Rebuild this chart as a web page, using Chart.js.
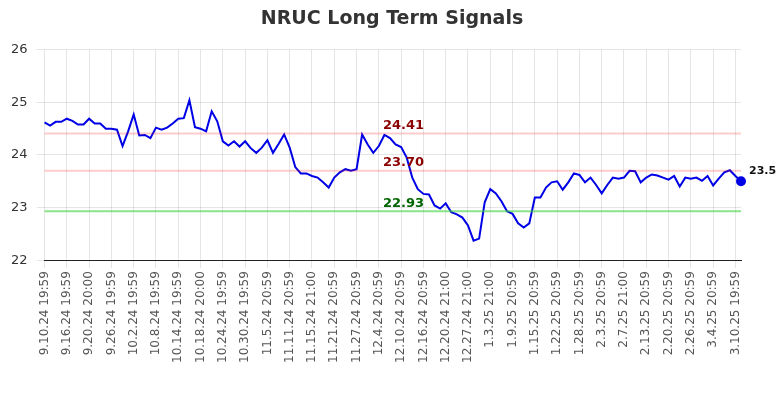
<!DOCTYPE html>
<html>
<head>
<meta charset="utf-8">
<script src="https://cdn.jsdelivr.net/npm/chart.js@4.4.1/dist/chart.umd.min.js"></script>
<style>
  html, body { margin: 0; padding: 0; background: #fff; }
  #wrap { width: 784px; height: 400px; }
</style>
</head>
<body>
<div id="wrap"><canvas id="signalChart"></canvas></div>
<script>
const dates = [
  '9.10.24 19:59', '9.11.24 19:59', '9.12.24 19:59', '9.13.24 20:00', '9.16.24 19:59', '9.17.24 19:59',
  '9.18.24 19:59', '9.19.24 19:59', '9.20.24 20:00', '9.23.24 19:59', '9.24.24 19:59', '9.25.24 19:59',
  '9.26.24 19:59', '9.27.24 20:00', '9.30.24 19:59', '10.1.24 19:59', '10.2.24 19:59', '10.3.24 19:59',
  '10.4.24 20:00', '10.7.24 19:59', '10.8.24 19:59', '10.9.24 19:59', '10.10.24 19:59', '10.11.24 20:00',
  '10.14.24 19:59', '10.15.24 19:59', '10.16.24 19:59', '10.17.24 19:59', '10.18.24 20:00', '10.21.24 19:59',
  '10.22.24 19:59', '10.23.24 19:59', '10.24.24 19:59', '10.25.24 20:00', '10.28.24 19:59', '10.29.24 19:59',
  '10.30.24 19:59', '10.31.24 19:59', '11.1.24 20:00', '11.4.24 20:59', '11.5.24 20:59', '11.6.24 20:59',
  '11.7.24 20:59', '11.8.24 21:00', '11.11.24 20:59', '11.12.24 20:59', '11.13.24 20:59', '11.14.24 20:59',
  '11.15.24 21:00', '11.18.24 20:59', '11.19.24 20:59', '11.20.24 20:59', '11.21.24 20:59', '11.22.24 21:00',
  '11.25.24 20:59', '11.26.24 20:59', '11.27.24 20:59', '11.29.24 18:00', '12.2.24 20:59', '12.3.24 20:59',
  '12.4.24 20:59', '12.5.24 20:59', '12.6.24 21:00', '12.9.24 20:59', '12.10.24 20:59', '12.11.24 20:59',
  '12.12.24 20:59', '12.13.24 21:00', '12.16.24 20:59', '12.17.24 20:59', '12.18.24 20:59', '12.19.24 20:59',
  '12.20.24 21:00', '12.23.24 20:59', '12.24.24 18:00', '12.26.24 20:59', '12.27.24 21:00', '12.30.24 20:59',
  '12.31.24 20:59', '1.2.25 20:59', '1.3.25 21:00', '1.6.25 20:59', '1.7.25 20:59', '1.8.25 20:59',
  '1.9.25 20:59', '1.10.25 21:00', '1.13.25 20:59', '1.14.25 20:59', '1.15.25 20:59', '1.16.25 20:59',
  '1.17.25 21:00', '1.21.25 20:59', '1.22.25 20:59', '1.23.25 20:59', '1.24.25 21:00', '1.27.25 20:59',
  '1.28.25 20:59', '1.29.25 20:59', '1.30.25 20:59', '1.31.25 21:00', '2.3.25 20:59', '2.4.25 20:59',
  '2.5.25 20:59', '2.6.25 20:59', '2.7.25 21:00', '2.10.25 20:59', '2.11.25 20:59', '2.12.25 20:59',
  '2.13.25 20:59', '2.14.25 21:00', '2.18.25 20:59', '2.19.25 20:59', '2.20.25 20:59', '2.21.25 21:00',
  '2.24.25 20:59', '2.25.25 20:59', '2.26.25 20:59', '2.27.25 20:59', '2.28.25 21:00', '3.3.25 20:59',
  '3.4.25 20:59', '3.5.25 20:59', '3.6.25 20:59', '3.7.25 21:00', '3.10.25 19:59', '3.11.25 19:59'
];

const prices = [
  24.62, 24.56, 24.63, 24.63, 24.69, 24.65, 24.58, 24.58, 24.69, 24.60,
  24.60, 24.50, 24.50, 24.48, 24.17, 24.45, 24.77, 24.37, 24.38, 24.32,
  24.52, 24.48, 24.52, 24.60, 24.69, 24.70, 25.04, 24.53, 24.50, 24.45,
  24.83, 24.64, 24.26, 24.18, 24.26, 24.16, 24.26, 24.13, 24.04, 24.14,
  24.28, 24.04, 24.21, 24.39, 24.14, 23.77, 23.65, 23.65, 23.60, 23.57,
  23.48, 23.38, 23.57, 23.67, 23.73, 23.70, 23.73, 24.39, 24.20, 24.04,
  24.17, 24.38, 24.32, 24.20, 24.15, 23.95, 23.57, 23.35, 23.26, 23.25,
  23.04, 22.98, 23.08, 22.91, 22.87, 22.81, 22.66, 22.37, 22.41, 23.10,
  23.35, 23.27, 23.12, 22.93, 22.88, 22.70, 22.62, 22.70, 23.19, 23.19,
  23.38, 23.48, 23.50, 23.34, 23.48, 23.65, 23.62, 23.48, 23.57, 23.43,
  23.27, 23.43, 23.57, 23.55, 23.57, 23.70, 23.69, 23.48, 23.57, 23.63,
  23.61, 23.57, 23.53, 23.60, 23.40, 23.57, 23.55, 23.57, 23.51, 23.60,
  23.42, 23.55, 23.67, 23.71, 23.60, 23.50
];

// signal levels and their colours
const levels = [24.41, 23.70, 22.93];
const levelLabels = ['24.41', '23.70', '22.93'];
const levelLineColors = ['rgba(255, 0, 0, 0.2)', 'rgba(255, 0, 0, 0.2)', 'rgba(60, 210, 60, 0.6)'];
const levelTextColors = ['#8b0000', '#8b0000', '#006400'];

const yTicks = [22, 23, 24, 25, 26];

const FONT = "'DejaVu Sans', sans-serif";
const lastIndex = prices.length - 1;

const levelsPlugin = {
  id: 'levels',
  afterDatasetsDraw(chart) {
    const { ctx, chartArea, scales } = chart;
    const y = scales.y;
    ctx.save();
    levels.forEach((lv, i) => {
      const py = y.getPixelForValue(lv);
      ctx.strokeStyle = levelLineColors[i];
      ctx.lineWidth = 2;
      ctx.beginPath();
      ctx.moveTo(chartArea.left, py);
      ctx.lineTo(chartArea.right, py);
      ctx.stroke();
    });
    const tx = chartArea.left + (chartArea.right - chartArea.left) * 0.486;
    ctx.font = 'bold 13px ' + FONT;
    ctx.textAlign = 'left';
    ctx.textBaseline = 'middle';
    levels.forEach((lv, i) => {
      ctx.fillStyle = levelTextColors[i];
      ctx.fillText(levelLabels[i], tx, y.getPixelForValue(lv) - 8);
    });
    // last value label
    const meta = chart.getDatasetMeta(0);
    const pt = meta.data[lastIndex];
    ctx.fillStyle = '#111';
    ctx.font = 'bold 11px ' + FONT;
    ctx.fillText(prices[lastIndex].toFixed(1), pt.x + 8, pt.y - 10);
    ctx.restore();
  }
};

new Chart(document.getElementById('signalChart').getContext('2d'), {
  type: 'line',
  data: {
    labels: dates,
    datasets: [{
      label: 'NRUC',
      data: prices,
      borderColor: '#0000e6',
      backgroundColor: '#0000e6',
      borderWidth: 2,
      tension: 0,
      pointRadius: (c) => c.dataIndex === lastIndex ? 4 : 0,
      pointHoverRadius: 0,
      fill: false
    }]
  },
  options: {
    responsive: true,
    maintainAspectRatio: false,
    animation: false,
    layout: { padding: { left: 2, right: 2, top: 4, bottom: 34 } },
    plugins: {
      legend: { display: false },
      tooltip: { enabled: false },
      title: {
        display: true,
        text: 'NRUC Long Term Signals',
        color: '#333',
        font: { family: FONT, size: 19, weight: 'bold' },
        padding: { top: 4, bottom: 19 }
      }
    },
    scales: {
      x: {
        grid: { color: 'rgba(0,0,0,0.1)' },
        border: { color: '#222', width: 1 },
        ticks: {
          autoSkip: false,
          maxRotation: 90,
          minRotation: 90,
          color: '#555',
          font: { family: FONT, size: 12 },
          callback: function(v, i) { return i % 4 === 0 ? dates[i] : null; }
        }
      },
      y: {
        min: yTicks[0],
        max: yTicks[yTicks.length - 1],
        grid: { color: 'rgba(0,0,0,0.1)' },
        border: { display: false },
        afterBuildTicks: (axis) => { axis.ticks = yTicks.map(v => ({ value: v })); },
        ticks: {
          color: '#333',
          padding: 9,
          font: { family: FONT, size: 13 }
        }
      },
      // empty right gutter that leaves room for the last value label
      gutter: {
        type: 'linear',
        position: 'right',
        grid: { display: false, drawTicks: false },
        border: { display: false },
        ticks: { display: false },
        afterFit: (axis) => { axis.width = 41; }
      }
    }
  },
  plugins: [levelsPlugin]
});
</script>
</body>
</html>
